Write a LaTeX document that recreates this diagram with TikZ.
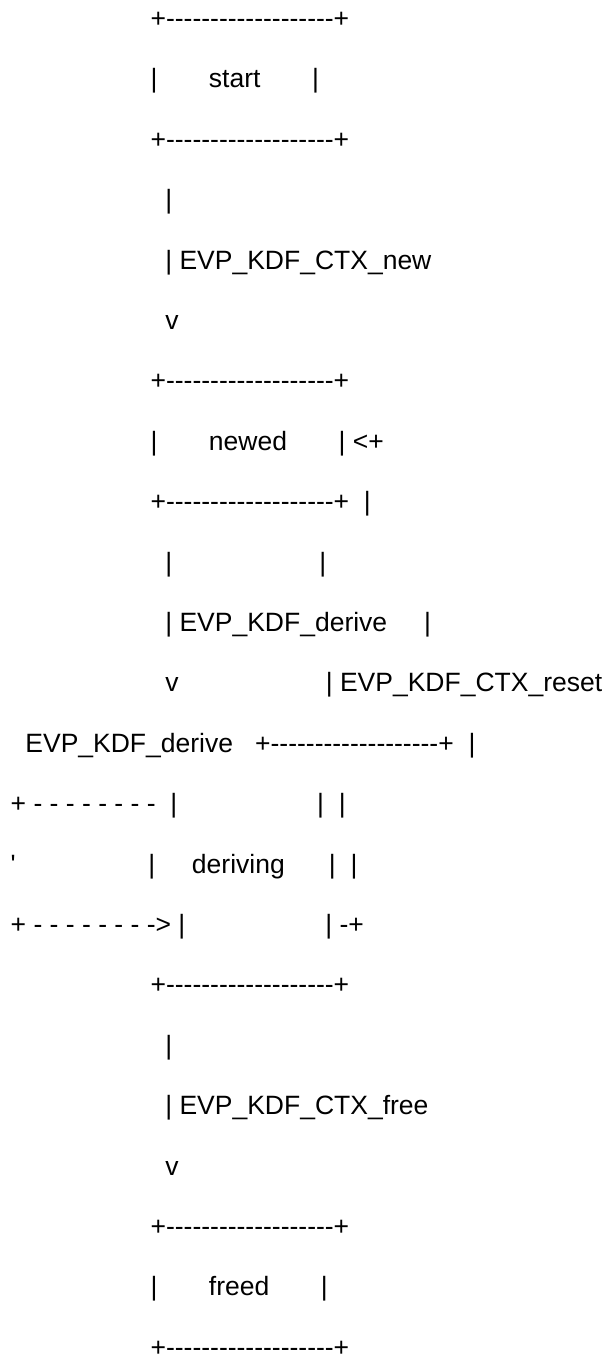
\documentclass[tikz,border=0pt]{standalone}
\usepackage{fontspec}
\newfontfamily\asciifont{Liberation Sans}
\newcommand\gap[1]{\hspace*{#1\fontdimen2\font}}

\begin{document}
\begin{tikzpicture}[x=1pt,y=1pt]
\useasboundingbox (0,0) rectangle (612,-1354);

\begin{scope}[every node/.style={anchor=base west,inner sep=0pt,
    font=\asciifont\fontsize{26.5}{30}\selectfont}]
    % start
    \node (startTop) at (10.5,-27.4) {\gap{19}+-------------------+};
    \node (startMid) at (10.5,-87.8) {\gap{19}|\gap{7}start\gap{7}|};
    \node (startBot) at (10.5,-148.2) {\gap{19}+-------------------+};
    \node (newStem) at (10.5,-208.6) {\gap{21}|};
    \node (newLabel) at (10.5,-269.0) {\gap{21}|\gap{1}EVP\_KDF\_CTX\_new};
    \node (newHead) at (10.5,-329.4) {\gap{21}v};

    % newed
    \node (newedTop) at (10.5,-389.8) {\gap{19}+-------------------+};
    \node (newedMid) at (10.5,-450.2) {\gap{19}|\gap{7}newed\gap{7}|\gap{1}<+};
    \node (newedBot) at (10.5,-510.6) {\gap{19}+-------------------+\gap{2}|};
    \node (deriveStem) at (10.5,-571.0) {\gap{21}|\gap{20}|};
    \node (deriveLabel) at (10.5,-631.4) {\gap{21}|\gap{1}EVP\_KDF\_derive\gap{5}|};
    \node (deriveHead) at (10.5,-691.8) {\gap{21}v\gap{20}|\gap{1}EVP\_KDF\_CTX\_reset};

    % deriving
    \node (derivingTop) at (10.5,-752.2) {\gap{2}EVP\_KDF\_derive\gap{3}+-------------------+\gap{2}|};
    \node (loopTop) at (10.5,-812.6) {+ - - - - - - - -\gap{2}|\gap{19}|\gap{2}|};
    \node (derivingMid) at (10.5,-873.0) {'\gap{18}|\gap{5}deriving\gap{6}|\gap{2}|};
    \node (loopBot) at (10.5,-933.4) {+ - - - - - - - ->\gap{1}|\gap{19}|\gap{1}-+};
    \node (derivingBot) at (10.5,-993.8) {\gap{19}+-------------------+};
    \node (freeStem) at (10.5,-1054.2) {\gap{21}|};
    \node (freeLabel) at (10.5,-1114.6) {\gap{21}|\gap{1}EVP\_KDF\_CTX\_free};
    \node (freeHead) at (10.5,-1175.0) {\gap{21}v};

    % freed
    \node (freedTop) at (10.5,-1235.4) {\gap{19}+-------------------+};
    \node (freedMid) at (10.5,-1295.8) {\gap{19}|\gap{7}freed\gap{7}|};
    \node (freedBot) at (10.5,-1356.2) {\gap{19}+-------------------+};
\end{scope}
\end{tikzpicture}
\end{document}
